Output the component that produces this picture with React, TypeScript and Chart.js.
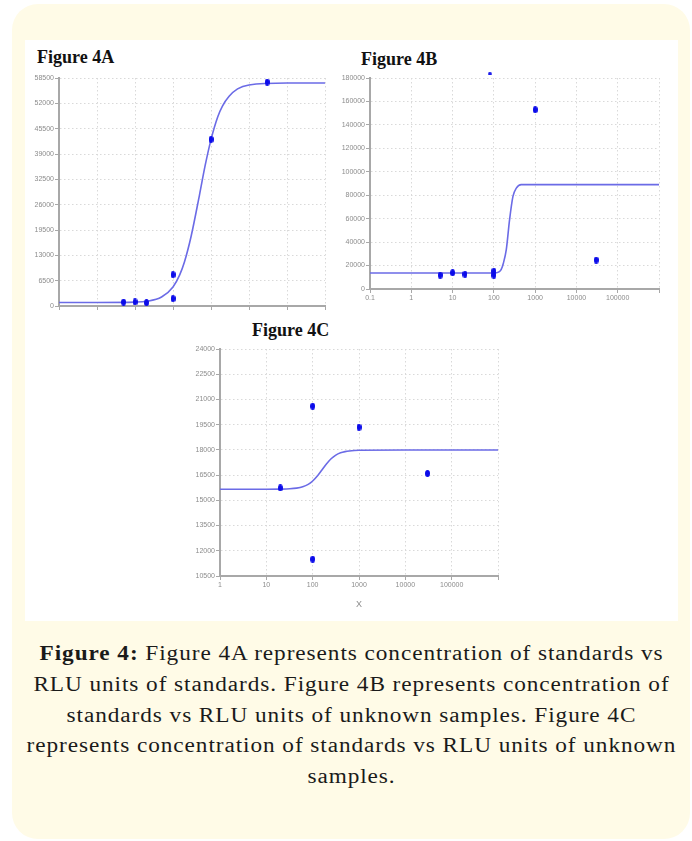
import React, { useEffect, useRef } from "react";
import { Chart, registerables } from "chart.js";

Chart.register(...registerables);

// ---------- Figure 4A : standards ----------
const concA = [5, 10, 20, 100, 100, 1000, 30000];
const rluA = [1000, 1050, 850, 8050, 1900, 42750, 57450];
const strayXA = [75];
const strayYA = [60600];
const fitXA = [0.1, 1, 10, 20, 50, 100, 150, 200, 300, 500, 700, 1000, 1500, 2000, 3000, 5000, 10000, 100000, 1000000];
const fitYA = [900, 900, 1000, 1200, 2300, 4900, 8000, 11300, 17900, 28600, 36000, 42700, 48500, 51300, 53800, 55700, 56700, 57200, 57200];
const yTicksA = [0, 6500, 13000, 19500, 26000, 32500, 39000, 45500, 52000, 58500];

// ---------- Figure 4B : unknown samples ----------
const concB = [5, 10, 20, 100, 100, 1000, 30000];
const rluB = [11800, 13900, 12600, 15200, 11800, 153000, 24700];
const strayXB = [80];
const strayYB = [183500];
const fitXB = [0.1, 1, 10, 100, 130, 150, 170, 200, 240, 290, 350, 460, 1000, 10000, 100000, 1000000];
const fitYB = [13700, 13700, 13700, 13700, 14400, 16500, 22000, 33500, 59000, 79000, 86000, 89000, 89000, 89000, 89000, 89000];
const yTicksB = [0, 20000, 40000, 60000, 80000, 100000, 120000, 140000, 160000, 180000];

// ---------- Figure 4C : unknown samples ----------
const concC = [20, 100, 100, 1000, 30000];
const rluC = [15740, 20600, 11500, 19350, 16600];
const strayXC = [285];
const strayYC = [24400];
const fitXC = [1, 10, 20, 32, 45, 61, 80, 100, 130, 160, 200, 250, 316, 400, 500, 617, 1000, 10000, 100000, 1000000];
const fitYC = [15660, 15660, 15667, 15685, 15724, 15805, 15949, 16150, 16492, 16825, 17175, 17471, 17690, 17824, 17898, 17938, 17977, 17990, 17990, 17990];
const yTicksC = [10500, 12000, 13500, 15000, 16500, 18000, 19500, 21000, 22500, 24000];

const xTicksAB = [0.1, 1, 10, 100, 1000, 10000, 100000, 1000000];
const xTicksC = [1, 10, 100, 1000, 10000, 100000, 1000000];

const POINT_BLUE = "#0b0bea";
const CURVE_BLUE = "#6b6be6";
const GRID = "#d9d9d9";
const AXIS = "#a8a8a8";
const TICK_TEXT = "#8c8c8c";
const TICK_FONT = "'Liberation Sans', Arial, sans-serif";

function ellipse(w: number, h: number, color: string) {
  const c = document.createElement("canvas");
  c.width = w;
  c.height = h;
  const ctx = c.getContext("2d")!;
  ctx.fillStyle = color;
  ctx.beginPath();
  ctx.ellipse(w / 2, h / 2, w / 2, h / 2, 0, 0, Math.PI * 2);
  ctx.fill();
  return c;
}

type Spec = {
  xs: number[];
  ys: number[];
  strayX: number[];
  strayY: number[];
  fitX: number[];
  fitY: number[];
  yTicks: number[];
  xTicks: number[];
  showXLabels: boolean;
  xTitle?: string;
  yWidth: number;
  xHeight: number;
};

function makeConfig(s: Spec): any {
  const pts = ellipse(5, 7, POINT_BLUE);
  const stray = ellipse(4, 3, POINT_BLUE);
  const xMin = s.xTicks[0];
  const xMax = s.xTicks[s.xTicks.length - 1];
  const yMin = s.yTicks[0];
  const yMax = s.yTicks[s.yTicks.length - 1];
  return {
    type: "scatter",
    data: {
      datasets: [
        {
          label: "samples",
          data: s.xs.map((x, i) => ({ x, y: s.ys[i] })),
          pointStyle: pts,
          pointRadius: 3,
          showLine: false,
        },
        {
          label: "stray",
          data: s.strayX.map((x, i) => ({ x, y: s.strayY[i] })),
          pointStyle: stray,
          pointRadius: 2,
          showLine: false,
          clip: false,
        },
        {
          label: "fit",
          data: s.fitX.map((x, i) => ({ x, y: s.fitY[i] })),
          showLine: true,
          borderColor: CURVE_BLUE,
          borderWidth: 1.6,
          pointRadius: 0,
          cubicInterpolationMode: "monotone",
          fill: false,
        },
      ],
    },
    options: {
      animation: false,
      responsive: false,
      maintainAspectRatio: false,
      events: [],
      layout: { padding: { top: 8, right: 8, left: 0, bottom: 0 } },
      plugins: { legend: { display: false }, tooltip: { enabled: false }, title: { display: false } },
      scales: {
        x: {
          type: "logarithmic",
          min: xMin,
          max: xMax,
          afterBuildTicks: (sc: any) => {
            sc.ticks = s.xTicks.map((v) => ({ value: v }));
          },
          afterFit: (sc: any) => {
            sc.height = s.xHeight;
          },
          ticks: {
            display: s.showXLabels,
            autoSkip: false,
            maxRotation: 0,
            padding: 1,
            color: TICK_TEXT,
            font: { family: TICK_FONT, size: 7 },
            callback: (v: any) => (v === xMax ? "" : String(v)),
          },
          grid: { color: GRID, lineWidth: 1, drawTicks: true, tickLength: 4, tickColor: AXIS, tickWidth: 1 },
          border: { display: true, color: AXIS, width: 2, dash: [1.5, 2.5] },
          title: s.xTitle
            ? { display: true, text: s.xTitle, color: TICK_TEXT, font: { family: TICK_FONT, size: 9 }, padding: { top: 4, bottom: 2 } }
            : { display: false },
        },
        y: {
          type: "linear",
          min: yMin,
          max: yMax,
          afterBuildTicks: (sc: any) => {
            sc.ticks = s.yTicks.map((v) => ({ value: v }));
          },
          afterFit: (sc: any) => {
            sc.width = s.yWidth;
          },
          ticks: {
            padding: 1,
            color: TICK_TEXT,
            font: { family: TICK_FONT, size: 7 },
            callback: (v: any) => String(v),
          },
          grid: { color: GRID, lineWidth: 1, drawTicks: true, tickLength: 4, tickColor: AXIS, tickWidth: 1 },
          border: { display: true, color: AXIS, width: 2, dash: [1.5, 2.5] },
        },
      },
    },
  };
}

function Plot({ spec, left, top, width, height }: { spec: Spec; left: number; top: number; width: number; height: number }) {
  const ref = useRef<HTMLCanvasElement | null>(null);
  useEffect(() => {
    if (!ref.current) return;
    const chart = new Chart(ref.current, makeConfig(spec));
    return () => chart.destroy();
  }, []);
  return (
    <canvas
      ref={ref}
      width={width}
      height={height}
      style={{ position: "absolute", left, top, width, height }}
    />
  );
}

const specA: Spec = {
  xs: concA, ys: rluA, strayX: strayXA, strayY: strayYA, fitX: fitXA, fitY: fitYA,
  yTicks: yTicksA, xTicks: xTicksAB, showXLabels: false, yWidth: 30, xHeight: 8,
};
const specB: Spec = {
  xs: concB, ys: rluB, strayX: strayXB, strayY: strayYB, fitX: fitXB, fitY: fitYB,
  yTicks: yTicksB, xTicks: xTicksAB, showXLabels: true, yWidth: 34, xHeight: 18,
};
const specC: Spec = {
  xs: concC, ys: rluC, strayX: strayXC, strayY: strayYC, fitX: fitXC, fitY: fitYC,
  yTicks: yTicksC, xTicks: xTicksC, showXLabels: true, xTitle: "X", yWidth: 30, xHeight: 36,
};

const labelStyle: React.CSSProperties = {
  position: "absolute",
  fontFamily: "'Liberation Serif', 'Times New Roman', serif",
  fontWeight: "bold",
  fontSize: 18,
  lineHeight: "18px",
  color: "#111",
  whiteSpace: "nowrap",
};

export default function App() {
  return (
    <div style={{ position: "absolute", left: 0, top: 0, width: 692, height: 841, overflow: "hidden" }}>
      <div
        style={{
          position: "absolute",
          left: 12,
          top: 4,
          width: 678,
          height: 835,
          background: "#fffbe7",
          borderRadius: 26,
        }}
      />
      <div style={{ position: "absolute", left: 25, top: 40, width: 653, height: 581, background: "#ffffff" }} />
      <div style={{ ...labelStyle, left: 37, top: 48 }}>Figure 4A</div>
      <div style={{ ...labelStyle, left: 361, top: 50 }}>Figure 4B</div>
      <div style={{ ...labelStyle, left: 252, top: 321 }}>Figure 4C</div>
      <Plot spec={specA} left={29} top={70} width={304} height={244} />
      <Plot spec={specB} left={336} top={70} width={331} height={237} />
      <Plot spec={specC} left={190} top={341} width={316} height={271} />
      <div
        style={{
          position: "absolute",
          left: 25,
          top: 638,
          width: 653,
          textAlign: "center",
          fontFamily: "'Liberation Serif', 'Times New Roman', serif",
          fontSize: 20,
          letterSpacing: "0.8px",
          lineHeight: "30.8px",
          color: "#1a1a1a",
          whiteSpace: "nowrap",
          transform: "scaleX(1.163)",
          transformOrigin: "50% 0",
        }}
      >
        <b>Figure 4:</b> Figure 4A represents concentration of standards vs
        <br />
        RLU units of standards. Figure 4B represents concentration of
        <br />
        standards vs RLU units of unknown samples. Figure 4C
        <br />
        represents concentration of standards vs RLU units of unknown
        <br />
        samples.
      </div>
    </div>
  );
}
